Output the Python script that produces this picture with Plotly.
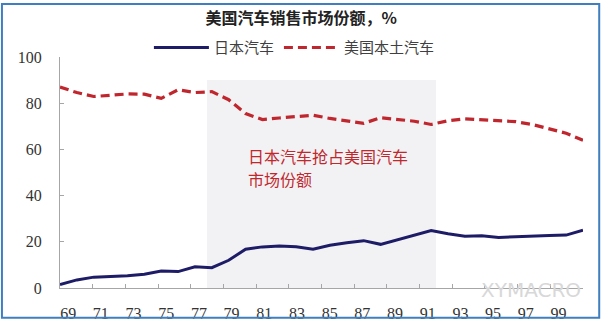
import plotly.graph_objects as go

years = list(range(1969, 2001))
japan = [1.5, 3.5, 4.7, 5.0, 5.3, 6.0, 7.4, 7.1, 9.2, 8.8, 12.0, 16.8, 17.8, 18.2, 17.9, 16.8,
         18.5, 19.6, 20.5, 18.9, 21.0, 23.0, 24.9, 23.5, 22.4, 22.6, 21.9, 22.2, 22.6, 22.7, 22.9, 25.0]
usa = [87.0, 84.6, 82.9, 83.6, 84.0, 83.9, 82.1, 85.8, 84.6, 85.0, 81.5, 75.5, 72.9, 73.6, 74.2, 74.8,
       73.4, 72.4, 71.3, 73.7, 73.1, 72.2, 70.8, 72.4, 73.2, 72.9, 72.6, 72.0, 70.8, 69.0, 67.0, 64.0]
shade_years = list(range(1978, 1992))
shade_top = [90] * len(shade_years)
tick_years = list(range(1969, 2000, 2))
tick_labels = ["69", "71", "73", "75", "77", "79", "81", "83", "85", "87", "89", "91", "93", "95", "97", "99"]
yticks = [0, 20, 40, 60, 80, 100]

title = "美国汽车销售市场份额，%"
name_jp = "日本汽车"
name_us = "美国本土汽车"
note_lines = ["日本汽车抢占美国汽车", "市场份额"]
note_y = [57, 47]

fig = go.Figure()
fig.add_trace(go.Bar(x=shade_years, y=shade_top, width=1, marker=dict(color="#F2F2F4", line=dict(width=0)),
                     showlegend=False, hoverinfo="skip"))
fig.add_trace(go.Scatter(x=years, y=japan, xaxis="x2", mode="lines", name=name_jp,
                         line=dict(color="#1E1C66", width=3)))
fig.add_trace(go.Scatter(x=years, y=usa, xaxis="x2", mode="lines", name=name_us,
                         line=dict(color="#C0262D", width=3.2, dash="9px,5px")))

axis_font = dict(family="Liberation Serif", size=16, color="#333333")
fig.update_layout(
    width=603, height=334,
    margin=dict(l=60, r=20, t=57, b=37),
    paper_bgcolor="white", plot_bgcolor="white",
    bargap=0,
    title=dict(text="<b>" + title + "</b>", x=0.461, xanchor="center", xref="paper", y=0.945, yanchor="middle",
               font=dict(family="Noto Sans CJK SC", size=16, color="#222222")),
    xaxis=dict(range=[1968.5, 2000.5], tickmode="array", tickvals=tick_years, ticktext=tick_labels,
               ticks="", showline=True, linecolor="#A6A6A6", linewidth=1, showgrid=False, zeroline=False,
               tickfont=axis_font, ticklabelstandoff=11,
               minor=dict(tickmode="array", tickvals=[y + 1.5 for y in tick_years[:-1]], ticks="inside",
                          ticklen=4, tickcolor="#A6A6A6", showgrid=False)),
    xaxis2=dict(range=[1969, 2000], overlaying="x", visible=False),
    yaxis=dict(range=[0, 100], tickmode="array", tickvals=yticks, ticks="inside", ticklen=4,
               tickcolor="#A6A6A6", showline=True, linecolor="#A6A6A6", linewidth=1, showgrid=False,
               zeroline=False, tickfont=axis_font, ticklabelstandoff=14),
    legend=dict(orientation="h", x=0.17, y=1.04, xanchor="left", yanchor="middle",
                font=dict(family="Noto Sans CJK SC", size=15, color="#404040"),
                itemwidth=55, bgcolor="rgba(0,0,0,0)", traceorder="normal"),
    showlegend=True,
)
for line_text, ly in zip(note_lines, note_y):
    fig.add_annotation(text=line_text, x=1979.9, y=ly, xref="x", yref="y", xanchor="left", yanchor="middle",
                       align="left", showarrow=False,
                       font=dict(family="Noto Sans CJK SC", size=16, color="#C0282E"))
fig.add_annotation(text="XYMACRO", x=1, y=-0.01, xref="paper", yref="paper", xanchor="right", yanchor="middle",
                   showarrow=False, font=dict(family="DejaVu Sans", size=20, color="#D8D8D8"))
fig.add_shape(type="rect", xref="paper", yref="paper", x0=-0.111, x1=1.031, y0=-0.129, y1=1.229,
              line=dict(color="#3F7FBF", width=2), fillcolor="rgba(0,0,0,0)", layer="above")
fig.write_html("out.html")
